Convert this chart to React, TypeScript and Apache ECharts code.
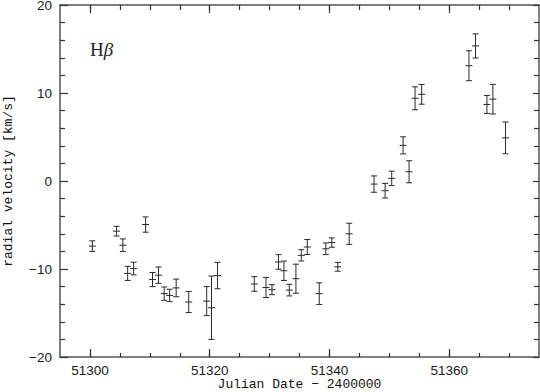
import React, { useEffect, useRef } from "react";
import * as echarts from "echarts";

const julianDate = [
  51300.4, 51304.45, 51305.5, 51306.3, 51307.3, 51309.3, 51310.45, 51311.45, 51312.4, 51313.3,
  51314.4, 51316.5, 51319.5, 51320.3, 51321.3, 51327.45, 51329.4, 51330.4, 51331.5, 51332.4,
  51333.3, 51334.4, 51335.3, 51336.3, 51338.3, 51339.4, 51340.4, 51341.4, 51343.3, 51347.45,
  51349.3, 51350.4, 51352.3, 51353.3, 51354.3, 51355.4, 51363.3, 51364.4, 51366.3, 51367.3,
  51369.4,
];
const velocity = [
  -7.4, -5.7, -7.3, -10.5, -9.95, -4.95, -11.2, -10.7, -12.8, -13.0,
  -12.15, -13.75, -13.65, -14.4, -10.75, -11.7, -12.1, -12.35, -9.2, -10.2,
  -12.4, -11.1, -8.45, -7.5, -12.8, -7.7, -7.0, -9.75, -6.0, -0.35,
  -1.1, 0.3, 4.05, 1.05, 9.4, 9.85, 13.1, 15.35, 8.7, 9.3,
  4.9,
];
const velocityError = [
  0.6, 0.55, 0.72, 0.8, 0.72, 0.87, 0.8, 0.93, 0.76, 0.7,
  1.0, 1.2, 1.65, 3.6, 1.5, 0.83, 1.14, 0.57, 0.83, 1.1,
  0.66, 1.65, 0.64, 0.85, 1.23, 0.66, 0.53, 0.5, 1.2, 0.93,
  0.83, 0.82, 0.97, 1.25, 1.3, 1.12, 1.7, 1.37, 1.02, 1.68,
  1.8,
];
const xMajorTicks = [51300, 51320, 51340, 51360];
const xMinorTicks = [
  51300, 51305, 51310, 51315, 51320, 51325, 51330, 51335, 51340, 51345,
  51350, 51355, 51360, 51365, 51370,
];

const INK = "#2a2a2a";
const AXIS = "#555";
const SANS = "'Liberation Sans', Arial, sans-serif";
const MONO = "'Liberation Mono', 'DejaVu Sans Mono', monospace";

export default function App() {
  const ref = useRef<HTMLDivElement>(null);
  useEffect(() => {
    if (!ref.current) return;
    const chart = echarts.init(ref.current, undefined, { renderer: "svg" });
    const data = julianDate.map((x, i) => [x, velocity[i], velocityError[i]]);
    const xBase = {
      type: "value" as const,
      min: 51295,
      max: 51375,
      splitLine: { show: false },
      axisLine: { show: false, onZero: false },
      axisLabel: { show: false },
    };
    const tickLine = { color: "#333", width: 1.2 };
    chart.setOption({
      animation: false,
      backgroundColor: "#fff",
      grid: { left: 60, right: 1, top: 5, bottom: 35, containLabel: false, outerBoundsMode: "none" },
      xAxis: [
        {
          ...xBase,
          position: "bottom",
          axisLine: { show: true, onZero: false, lineStyle: { color: AXIS, width: 1.5 } },
          axisTick: { show: true, inside: true, length: 8, customValues: xMajorTicks, lineStyle: tickLine },
          axisLabel: {
            show: true,
            customValues: xMajorTicks,
            margin: 6,
            fontFamily: SANS,
            fontSize: 13.5,
            color: "#1a1a1a",
            formatter: (v: number) => String(v),
          },
          name: "Julian Date \u2212 2400000",
          nameLocation: "middle",
          nameGap: 21,
          nameMoveOverlap: false,
          nameTextStyle: { fontFamily: MONO, fontSize: 13, color: "#111" },
        },
        {
          ...xBase,
          position: "bottom",
          axisTick: { show: true, inside: true, length: 4, customValues: xMinorTicks, lineStyle: tickLine },
        },
        {
          ...xBase,
          position: "top",
          axisLine: { show: true, onZero: false, lineStyle: { color: AXIS, width: 1.5 } },
          axisTick: { show: true, inside: true, length: 8, customValues: xMajorTicks, lineStyle: tickLine },
        },
        {
          ...xBase,
          position: "top",
          axisTick: { show: true, inside: true, length: 5, customValues: xMinorTicks, lineStyle: tickLine },
        },
      ],
      yAxis: [
        {
          type: "value",
          position: "left",
          min: -20,
          max: 20,
          interval: 10,
          splitLine: { show: false },
          axisLine: { show: true, onZero: false, lineStyle: { color: AXIS, width: 1.5 } },
          axisTick: { show: true, inside: true, length: 8, lineStyle: tickLine },
          minorTick: { show: true, splitNumber: 5, length: 5, lineStyle: tickLine },
          axisLabel: {
            margin: 8,
            fontFamily: SANS,
            fontSize: 13.5,
            color: "#1a1a1a",
            formatter: (v: number) => String(v).replace("-", "\u2212"),
          },
          name: "radial velocity [km/s]",
          nameLocation: "middle",
          nameGap: 45,
          nameRotate: 90,
          nameMoveOverlap: false,
          nameTextStyle: { fontFamily: MONO, fontSize: 13, color: "#111" },
        },
        {
          type: "value",
          position: "right",
          min: -20,
          max: 20,
          interval: 10,
          splitLine: { show: false },
          axisLine: { show: true, onZero: false, lineStyle: { color: AXIS, width: 1.5 } },
          axisTick: { show: true, inside: true, length: 6, lineStyle: tickLine },
          minorTick: { show: true, splitNumber: 5, length: 5, lineStyle: tickLine },
          axisLabel: { show: false },
        },
      ],
      graphic: [
        {
          type: "text",
          left: 90,
          top: 40,
          style: {
            text: "{a|H}{b|\u03b2}",
            rich: {
              a: { fontFamily: "'Liberation Serif', serif", fontSize: 19, fill: "#222" },
              b: { fontFamily: "'Liberation Serif', serif", fontStyle: "italic", fontSize: 19, fill: "#222" },
            },
          },
        },
      ],
      series: [
        {
          type: "custom",
          xAxisIndex: 0,
          yAxisIndex: 0,
          data,
          renderItem: (_params: any, api: any) => {
            const x = api.value(0);
            const y = api.value(1);
            const e = api.value(2);
            const c = api.coord([x, y]);
            const t = api.coord([x, y + e]);
            const b = api.coord([x, y - e]);
            const style = { stroke: INK, lineWidth: 1, fill: "none" };
            return {
              type: "group",
              children: [
                { type: "line", shape: { x1: c[0], y1: t[1], x2: c[0], y2: b[1] }, style },
                { type: "line", shape: { x1: c[0] - 3, y1: t[1], x2: c[0] + 3, y2: t[1] }, style },
                { type: "line", shape: { x1: c[0] - 3, y1: b[1], x2: c[0] + 3, y2: b[1] }, style },
                { type: "line", shape: { x1: c[0] - 3.5, y1: c[1], x2: c[0] + 3.5, y2: c[1] }, style },
              ],
            };
          },
        },
      ],
    });
    return () => chart.dispose();
  }, []);
  return (
    <div style={{ position: "absolute", left: 0, top: 0, width: 540, height: 392 }}>
      <div ref={ref} style={{ width: 540, height: 392 }} />
    </div>
  );
}
